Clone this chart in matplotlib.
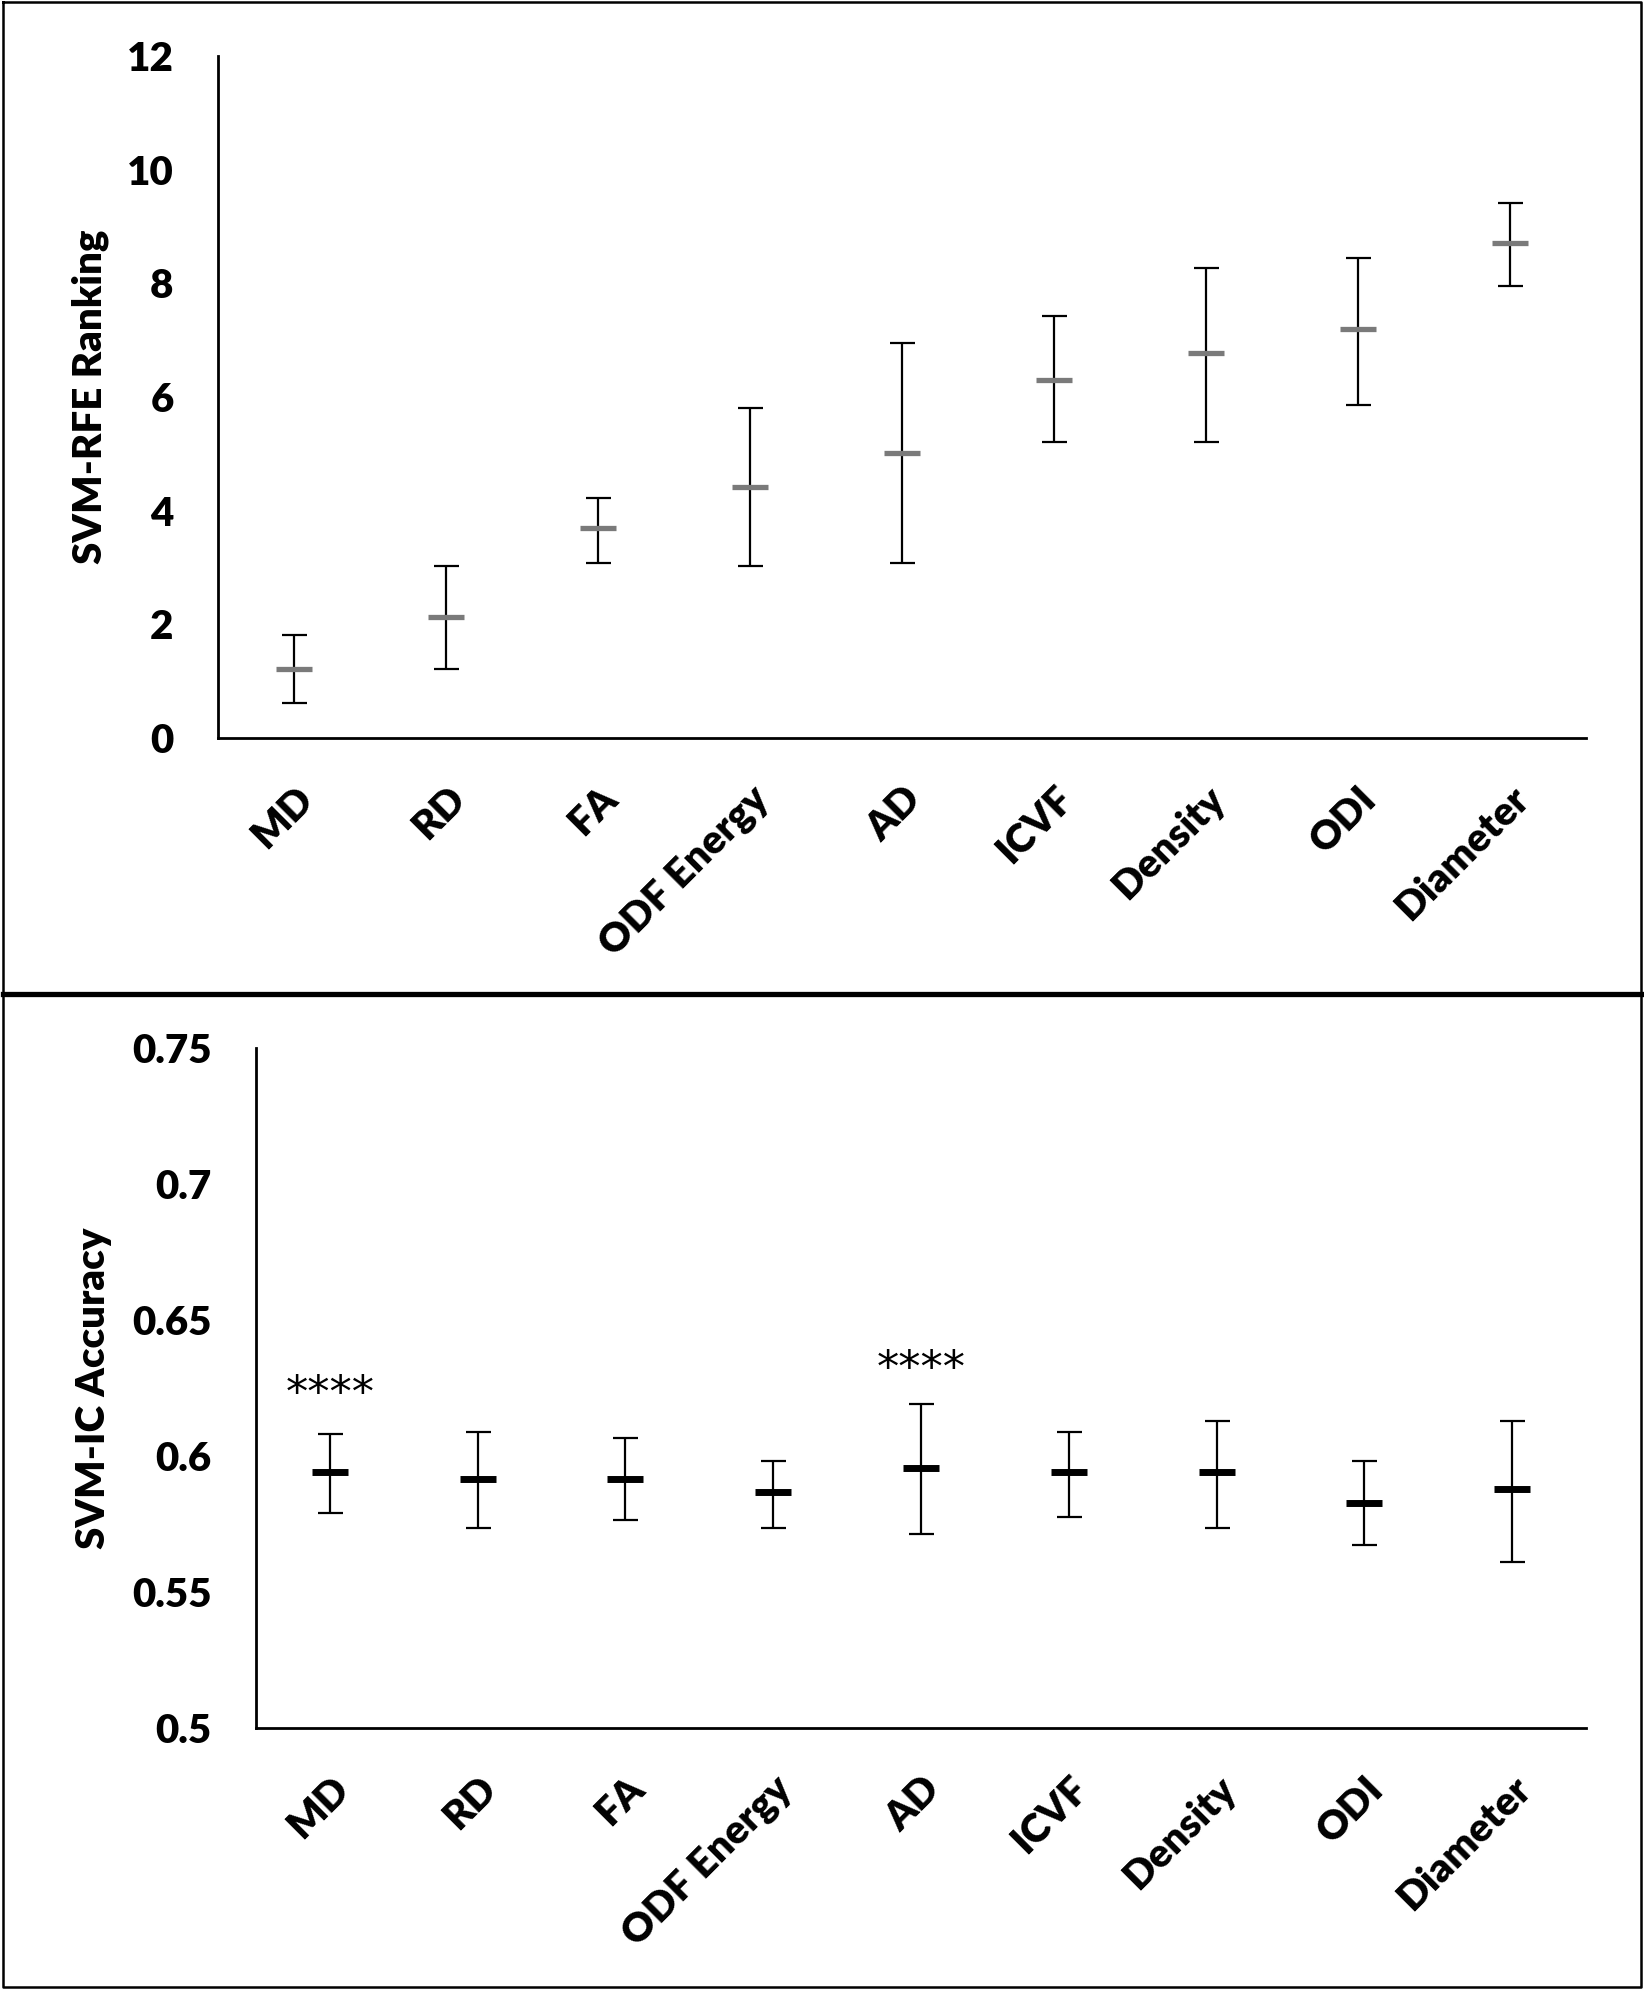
import numpy as np
import matplotlib.pyplot as plt
from matplotlib.lines import Line2D

features = ['MD', 'RD', 'FA', 'ODF Energy', 'AD', 'ICVF', 'Density', 'ODI', 'Diameter']

# SVM-RFE ranking: mean, lower and upper end of the bar
rank_mean = [1.22, 2.13, 3.70, 4.42, 5.02, 6.29, 6.78, 7.20, 8.71]
rank_low = [0.61, 1.21, 3.08, 3.03, 3.08, 5.20, 5.20, 5.86, 7.96]
rank_high = [1.81, 3.03, 4.22, 5.80, 6.94, 7.42, 8.26, 8.44, 9.41]

# SVM-IC accuracy
acc_mean = [0.5940, 0.5917, 0.5917, 0.5866, 0.5956, 0.5940, 0.5940, 0.5829, 0.5877]
acc_low = [0.5790, 0.5736, 0.5764, 0.5736, 0.5713, 0.5775, 0.5736, 0.5673, 0.5610]
acc_high = [0.6080, 0.6090, 0.6068, 0.5980, 0.6193, 0.6090, 0.6130, 0.5980, 0.6130]

# significance stars
star_idx = [0, 4]
star_y = [0.6225, 0.6318]

tick_font = 'Lato'

fig = plt.figure(figsize=(16.44, 19.89), dpi=100)


def draw_panel(ax, mean, low, high, mean_color, mean_lw, ylim, yticks, yticklabels, ylabel):
    x = np.arange(len(features))
    mean = np.array(mean)
    yerr = [mean - np.array(low), np.array(high) - mean]
    ax.errorbar(x, mean, yerr=yerr, fmt='none', ecolor='black',
                elinewidth=1.6, capsize=9, capthick=1.6, zorder=2)
    ax.plot(x, mean, linestyle='none', marker='_', markersize=26,
            markeredgewidth=mean_lw, color=mean_color, zorder=3)
    ax.set_xlim(-0.5, len(features) - 0.5)
    ax.set_ylim(*ylim)
    ax.set_yticks(yticks)
    ax.set_yticklabels(yticklabels, fontfamily=tick_font, fontweight='heavy', fontsize=29)
    ax.set_xticks(x)
    ax.set_xticklabels(features, rotation=45, ha='right', rotation_mode='anchor',
                       fontfamily=tick_font, fontweight='heavy', fontsize=29)
    ax.tick_params(axis='both', length=0)
    ax.tick_params(axis='y', pad=32)
    ax.tick_params(axis='x', pad=30)
    for s in ['top', 'right']:
        ax.spines[s].set_visible(False)
    ax.spines['left'].set_linewidth(2)
    ax.spines['bottom'].set_linewidth(2)
    ax.set_ylabel(ylabel, fontfamily=tick_font, fontweight='heavy', fontsize=29)


ax1 = fig.add_axes([0.1326, 0.629, 0.8321, 0.3429])
draw_panel(ax1, rank_mean, rank_low, rank_high, '#7a7a7a', 3.8, (0, 12),
           [0, 2, 4, 6, 8, 10, 12], ['0', '2', '4', '6', '8', '10', '12'],
           'SVM-RFE Ranking')
ax1.yaxis.set_label_coords(-0.08, 0.5)

ax2 = fig.add_axes([0.1557, 0.1312, 0.809, 0.3419])
draw_panel(ax2, acc_mean, acc_low, acc_high, 'black', 5, (0.5, 0.75),
           [0.5, 0.55, 0.6, 0.65, 0.7, 0.75], ['0.5', '0.55', '0.6', '0.65', '0.7', '0.75'],
           'SVM-IC Accuracy')
ax2.yaxis.set_label_coords(-0.108, 0.5)
for i, y in zip(star_idx, star_y):
    ax2.text(i, y, '****', ha='center', va='center', fontsize=32, fontfamily='DejaVu Sans')

# panel frames
fig.add_artist(Line2D([0.002, 0.998, 0.998, 0.002, 0.002], [0.999, 0.999, 0.001, 0.001, 0.999],
                      color='black', linewidth=1.8, transform=fig.transFigure))
fig.add_artist(Line2D([0.002, 0.998], [0.5003, 0.5003], color='black', linewidth=3.8,
                      transform=fig.transFigure))

fig.savefig('out.png', dpi=100, facecolor='white')
